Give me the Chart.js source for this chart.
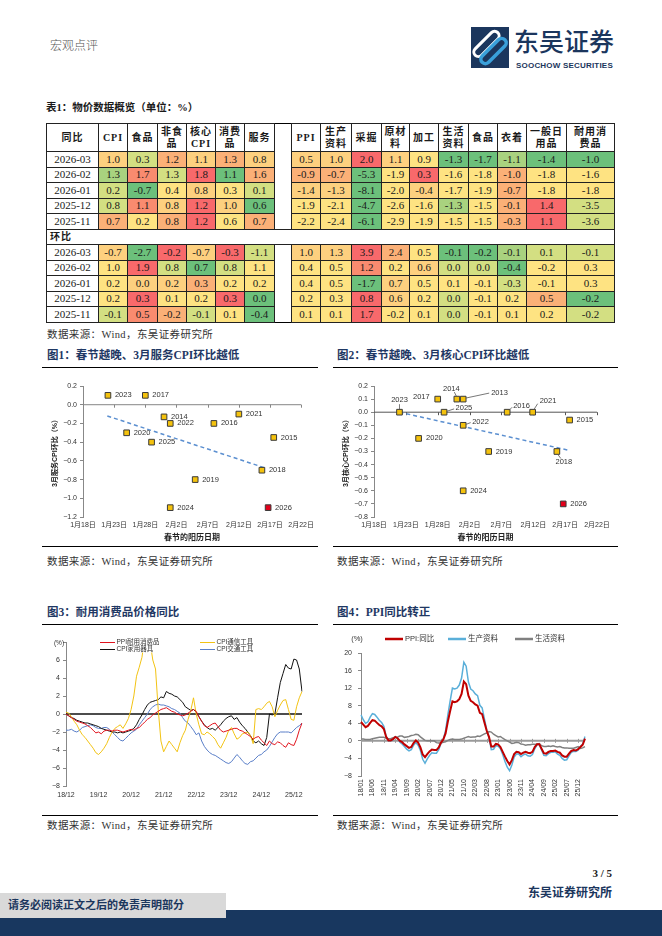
<!DOCTYPE html>
<html lang="zh-CN">
<head>
<meta charset="UTF-8">
<meta name="viewport" content="width=device-width, initial-scale=1.0">
<title>宏观点评 - 物价数据</title>
<script src="https://cdn.jsdelivr.net/npm/chart.js"></script>
<style>
  body { margin: 0; background: #fff; }
  #page { position: relative; width: 662px; height: 936px; overflow: hidden;
          font-family: "Liberation Serif", "Noto Sans CJK SC", serif; color: #222; }
  .abs { position: absolute; white-space: nowrap; }
  .ftitle { font-size: 11.5px; font-weight: bold; color: #1F3864; line-height: 16px; }
  .src { font-size: 10.5px; line-height: 14px; color: #333; letter-spacing: 0.4px; }
  .rule { position: absolute; height: 0; border-top: 1px solid #000; }
  canvas { position: absolute; }
  #tbl { position: absolute; left: 46px; top: 123px; width: 568px; border-collapse: collapse;
         table-layout: fixed; border: 1.5px solid #000;
         font-family: "Liberation Serif", "Noto Sans CJK SC", serif; font-size: 11px; color: #1a1a1a; }
  #tbl td, #tbl th { border: 1px solid #222; padding: 0; text-align: center; height: 14.5px;
                     line-height: 13px; white-space: nowrap; overflow: hidden; }
  #tbl th { height: 27px; font-size: 10px; line-height: 12px; font-weight: bold; letter-spacing: 1px; }
  #tbl .gap { border-top: none; border-bottom: none; background: #fff; }
  #tbl .sec td { text-align: left; font-weight: bold; font-size: 10px; padding-left: 3px; letter-spacing: 1px; }
</style>
</head>
<body>
<div id="page">
  <div class="abs" style="left:50px;top:36px;font:300 12px 'Noto Sans CJK SC';color:#555;">宏观点评</div>
  <svg class="abs" style="left:471px;top:27px" width="38" height="41" viewBox="0 0 38 41">
    <rect width="38" height="41" fill="#1B365D"/>
    <g transform="rotate(-45 19 20.5)">
      <rect x="3" y="11" width="32" height="9" rx="4.5" fill="none" stroke="#fff" stroke-width="3"/>
      <rect x="3" y="21" width="32" height="9" rx="4.5" fill="none" stroke="#3AA0DA" stroke-width="3.5"/>
    </g>
  </svg>
  <div class="abs" style="left:514px;top:25px;font:500 25px/30px 'Noto Sans CJK SC';color:#1B365D;">东吴证券</div>
  <div class="abs" style="left:516px;top:61px;font:bold 8px/10px 'Liberation Sans';color:#1B365D;letter-spacing:0.2px;">SOOCHOW SECURITIES</div>

  <div class="abs" style="left:46px;top:101px;font-size:10.5px;font-weight:bold;line-height:14px;color:#1a1a1a;">表1：物价数据概览（单位：%）</div>
  <table id="tbl"></table>
  <div class="abs src" style="left:47px;top:328px;">数据来源：Wind，东吴证券研究所</div>

  <div class="abs ftitle" style="left:47px;top:347px;">图1：春节越晚、3月服务CPI环比越低</div>
  <div class="abs ftitle" style="left:337px;top:347px;">图2：春节越晚、3月核心CPI环比越低</div>
  <div class="rule" style="left:42px;top:367px;width:276px;"></div>
  <div class="rule" style="left:333px;top:367px;width:285px;"></div>
  <canvas id="fig1" width="276" height="172" style="left:42px;top:372px;"></canvas>
  <canvas id="fig2" width="285" height="172" style="left:333px;top:372px;"></canvas>
  <div class="rule" style="left:42px;top:546px;width:276px;"></div>
  <div class="rule" style="left:333px;top:546px;width:285px;"></div>
  <div class="abs src" style="left:47px;top:555px;">数据来源：Wind，东吴证券研究所</div>
  <div class="abs src" style="left:337px;top:555px;">数据来源：Wind，东吴证券研究所</div>

  <div class="abs ftitle" style="left:47px;top:604px;">图3：耐用消费品价格同比</div>
  <div class="abs ftitle" style="left:337px;top:604px;">图4：PPI同比转正</div>
  <div class="rule" style="left:42px;top:624px;width:276px;"></div>
  <div class="rule" style="left:333px;top:624px;width:285px;"></div>
  <canvas id="fig3" width="276" height="184" style="left:42px;top:628px;"></canvas>
  <canvas id="fig4" width="285" height="184" style="left:333px;top:628px;"></canvas>
  <div class="rule" style="left:42px;top:815px;width:276px;"></div>
  <div class="rule" style="left:333px;top:815px;width:285px;"></div>
  <div class="abs src" style="left:47px;top:819px;">数据来源：Wind，东吴证券研究所</div>
  <div class="abs src" style="left:337px;top:819px;">数据来源：Wind，东吴证券研究所</div>

  <div class="abs" style="right:50px;top:866px;font-size:11px;font-weight:bold;line-height:14px;">3 / 5</div>
  <div class="abs" style="right:50px;top:885px;font-size:12px;font-weight:bold;line-height:16px;color:#1B365D;">东吴证券研究所</div>
  <div class="abs" style="left:0;top:910px;width:662px;height:26px;background:#18375F;"></div>
  <div class="abs" style="left:0;top:893px;width:226px;height:25px;background:#D9D9D9;"></div>
  <div class="abs" style="left:8px;top:898px;font-size:11px;font-weight:bold;line-height:15px;color:#1B365D;">请务必阅读正文之后的免责声明部分</div>
</div>

<script>
// ---- 表1 数据 ----
const rowDates = ['2026-03', '2026-02', '2026-01', '2025-12', '2025-11'];
const cpiHeads = ['CPI', '食品', '非食\n品', '核心\nCPI', '消费\n品', '服务'];
const ppiHeads = ['PPI', '生产\n资料', '采掘', '原材\n料', '加工', '生活\n资料', '食品', '衣着', '一般日\n用品', '耐用消\n费品'];

const yoyCpi = [
  [1.0, 0.3, 1.2, 1.1, 1.3, 0.8],
  [1.3, 1.7, 1.3, 1.8, 1.1, 1.6],
  [0.2, -0.7, 0.4, 0.8, 0.3, 0.1],
  [0.8, 1.1, 0.8, 1.2, 1.0, 0.6],
  [0.7, 0.2, 0.8, 1.2, 0.6, 0.7]
];
const yoyPpi = [
  [0.5, 1.0, 2.0, 1.1, 0.9, -1.3, -1.7, -1.1, -1.4, -1.0],
  [-0.9, -0.7, -5.3, -1.9, 0.3, -1.6, -1.8, -1.0, -1.8, -1.6],
  [-1.4, -1.3, -8.1, -2.0, -0.4, -1.7, -1.9, -0.7, -1.8, -1.8],
  [-1.9, -2.1, -4.7, -2.6, -1.6, -1.3, -1.5, -0.1, 1.4, -3.5],
  [-2.2, -2.4, -6.1, -2.9, -1.9, -1.5, -1.5, -0.3, 1.1, -3.6]
];
const momCpi = [
  [-0.7, -2.7, -0.2, -0.7, -0.3, -1.1],
  [1.0, 1.9, 0.8, 0.7, 0.8, 1.1],
  [0.2, 0.0, 0.2, 0.3, 0.2, 0.2],
  [0.2, 0.3, 0.1, 0.2, 0.3, 0.0],
  [-0.1, 0.5, -0.2, -0.1, 0.1, -0.4]
];
const momPpi = [
  [1.0, 1.3, 3.9, 2.4, 0.5, -0.1, -0.2, -0.1, 0.1, -0.1],
  [0.4, 0.5, 1.2, 0.2, 0.6, 0.0, 0.0, -0.4, -0.2, 0.3],
  [0.4, 0.5, -1.7, 0.7, 0.5, 0.1, -0.1, -0.3, -0.1, 0.3],
  [0.2, 0.3, 0.8, 0.6, 0.2, 0.0, -0.1, 0.2, 0.5, -0.2],
  [0.1, 0.1, 1.7, -0.2, 0.1, 0.0, -0.1, 0.1, 0.2, -0.2]
];

// 条件格式颜色（从图中读取的色阶）
const heatColors = { r: '#F8696B', s: '#F98B6F', o: '#FBB077', a: '#FDD07F', y: '#FEE382', l: '#D3DF82', m: '#A9D27F', g: '#6CC07B' };
const yoyCpiHeat = ['aloaoa', 'mslrgo', 'lgyayl', 'lsarag', 'oyoryo'];
const yoyPpiHeat = ['aarayggmgg', 'oogyryyoyy', 'aagyayyoyy', 'yygyymyorl', 'yygyyyyorl'];
const momCpiHeat = ['agrarl', 'yrlgly', 'yaaoyy', 'yryyrg', 'lsolyg'];
const momPpiHeat = ['aaroyggmll', 'yysyallgyy', 'yygayyylyy', 'yyraylyyog', 'yyryylyyyl'];
const colWidths = [52, 29, 30, 29, 29, 29, 30, 17, 29, 31, 30, 28, 29, 30, 29, 29, 40, 48];

// ---- 图1/图2 数据 ----
const dayTicks = [18, 23, 28, 33, 38, 43, 48, 53];
const dayTickLabels = ['1月18日', '1月23日', '1月28日', '2月2日', '2月7日', '2月12日', '2月17日', '2月22日'];

const years1 = ['2014', '2015', '2016', '2017', '2018', '2019', '2020', '2021', '2022', '2023', '2024', '2025', '2026'];
const springDay1 = [31, 48.6, 39, 28, 46.7, 36, 25, 43, 32, 22, 32, 29, 47.7];
const serviceMom = [-0.13, -0.35, -0.2, 0.1, -0.7, -0.8, -0.3, -0.1, -0.2, 0.1, -1.1, -0.4, -1.1];
const trend1X = [21.9, 47.4];
const trend1Y = [-0.12, -0.68];

const years2 = ['2013', '2014', '2015', '2016', '2017', '2018', '2019', '2020', '2021', '2022', '2023', '2024', '2025', '2026'];
const springDay2 = [32, 31, 48.7, 38.9, 28, 46.7, 36, 25, 42.9, 32, 22, 32, 29, 47.7];
const coreMom = [0.1, 0.1, -0.06, 0.0, 0.1, -0.3, -0.3, -0.2, 0.0, -0.1, 0.0, -0.6, 0.0, -0.7];
const trend2X = [22, 48.5];
const trend2Y = [0.0, -0.29];

// ---- 图3 数据（2018/12 - 2026/03，月度） ----
const durTickLabels = ['18/12', '19/12', '20/12', '21/12', '22/12', '23/12', '24/12', '25/12'];
const ppiDurable = [0.0, -0.2, -0.4, -0.6, -0.8, -0.9, -1.0, -1.1, -1.3, -1.5, -1.8, -2.1,
  -2.0, -2.2, -1.9, -1.8, -1.8, -1.9, -1.8, -1.8, -1.9, -2.0, -1.9, -1.8,
  -1.7, -1.8, -1.6, -1.5, -1.2, -0.9, -0.6, -0.4, -0.1, 0.1, 0.3, 0.5,
  0.6, 0.7, 0.5, 0.3, 0.2, 0.0, -0.1, -0.2, -0.1, 0.1, 0.3, 0.5,
  0.3, -0.3, -0.8, -1.3, -1.5, -1.3, -1.1, -1.0, -1.4, -1.8, -2.0, -1.9,
  -1.8, -1.7, -1.6, -1.6, -1.8, -1.9, -2.1, -2.3, -2.5, -2.8, -2.6, -2.5,
  -2.9, -3.2, -3.5, -3.0, -3.3, -3.4, -3.1, -3.2, -3.5, -3.7, -3.2, -3.4,
  -3.5, -2.8, -1.8, -1.0];
const cpiComm = [0.2, 0.1, -0.3, -0.8, -1.2, -1.8, -2.3, -2.6, -3.0, -3.4, -3.8, -4.3,
  -4.5, -4.2, -3.8, -3.3, -2.6, -2.0, -1.6, -1.4, -1.2, -1.6, -1.1, -0.5,
  0.5, 2.0, 4.2, 5.2, 6.3, 8.5, 9.0, 8.0, 6.0, 5.0, 0.5, -3.0,
  -4.2, -3.6, -3.0, -3.4, -3.8, -4.2, -3.2, -2.4, -1.8, -0.6, 0.4, 1.8,
  0.0, -1.2, -2.2, -2.3, -2.0, -2.2, -2.5, -2.8, -3.4, -3.8, -3.2, -2.6,
  -1.8, -1.5, -2.2, -2.8, -2.6, -2.2, -2.1, -2.0, -2.4, -3.3, 0.5, 0.6,
  0.5, 0.8, 1.2, 1.4, 0.8, -0.3, 0.4, 1.0, 1.5, 1.6, 0.5, -0.6,
  -0.7, 0.8, 1.8, 2.5];
const cpiAppliance = [0.0, -0.2, -0.4, -0.5, -0.7, -0.8, -0.9, -1.0, -1.0, -1.1, -1.2, -1.3,
  -1.4, -1.6, -1.7, -1.8, -1.9, -2.0, -2.0, -2.1, -2.0, -2.1, -2.0, -1.9,
  -1.8, -1.6, -1.2, -0.6, -0.1, 0.5, 1.0, 1.3, 1.4, 1.5, 1.6, 1.9,
  1.8, 2.5, 2.3, 2.2, 2.0, 1.9, 1.6, 1.3, 0.8, 0.6, 0.4, 0.5,
  0.2, -0.3, -0.8, -1.2, -1.5, -1.7, -1.6, -1.8, -1.5, -1.2, -0.8, -0.5,
  -0.3, -0.2, -0.6, -0.4, -0.9, -1.3, -1.6, -2.0, -2.4, -3.0, -3.2, -3.0,
  -3.3, -3.5, -2.6, 0.0, -0.1, 0.0, 1.8, 3.5, 4.5, 5.5, 5.1, 5.0,
  6.1, 6.0, 5.0, 2.5];
const cpiTransport = [-1.8, -1.8, -1.7, -1.9, -2.0, -1.8, -1.5, -1.4, -1.3, -1.2, -1.3, -1.5,
  -1.6, -1.6, -1.5, -1.5, -1.7, -2.0, -2.3, -2.6, -2.9, -3.0, -2.7, -2.4,
  -2.1, -1.9, -1.7, -1.2, -0.8, -0.4, 0.0, 0.5, 0.8, 1.0, 1.1, 1.0,
  1.0, 0.9, 0.8, 0.6, 0.5, 0.3, 0.1, -0.4, -0.8, -1.0, -1.4, -1.8,
  -2.3, -2.1, -3.0, -3.6, -4.0, -4.3, -4.5, -4.6, -4.8, -5.0, -5.2, -5.4,
  -5.5, -5.3, -4.9, -4.5, -4.8, -5.2, -5.5, -5.6, -5.3, -5.2, -4.9, -4.6,
  -4.5, -4.2, -4.0, -3.6, -3.1, -2.6, -2.2, -2.0, -2.0, -2.0, -2.0, -2.1,
  -1.8, -1.5, -1.3, -1.0];

// ---- 图4 数据（2018/01 - 2026/03，月度） ----
const ppiTickLabels = ['18/01', '18/06', '18/11', '19/04', '19/09', '20/02', '20/07', '20/12', '21/05', '21/10',
  '22/03', '22/08', '23/01', '23/06', '23/11', '24/04', '24/09', '25/02', '25/07', '25/12'];
const ppiYoy = [4.3, 3.7, 3.1, 3.4, 4.1, 4.7, 4.6, 4.1, 3.6, 3.3, 2.7, 0.9,
  0.1, 0.1, 0.4, 0.9, 0.6, 0.0, -0.3, -0.8, -1.2, -1.6, -1.4, -0.5,
  0.1, -0.4, -1.5, -3.1, -3.7, -3.0, -2.4, -2.0, -2.1, -2.1, -1.5, -0.4,
  0.3, 1.7, 4.4, 6.8, 9.0, 8.8, 9.0, 9.5, 10.7, 13.5, 12.9, 10.3,
  9.1, 8.8, 8.3, 8.0, 6.4, 6.1, 4.2, 2.3, 0.9, -1.3, -1.3, -0.7,
  -0.8, -1.4, -2.5, -3.6, -4.6, -5.4, -4.4, -3.0, -2.5, -2.6, -3.0, -2.7,
  -2.5, -2.7, -2.8, -2.5, -1.4, -0.8, -0.8, -1.8, -2.8, -2.9, -2.5, -2.3,
  -2.3, -2.2, -2.5, -2.7, -3.3, -3.6, -3.6, -2.9, -2.3, -2.1, -2.2, -1.9,
  -1.4, -0.9, 0.5];
const prodYoy = [5.9, 4.8, 4.0, 4.3, 5.4, 6.2, 6.0, 5.4, 4.7, 4.2, 3.3, 1.0,
  0.0, 0.0, 0.2, 0.9, 0.5, -0.3, -0.7, -1.3, -1.9, -2.3, -2.0, -1.0,
  -0.4, -1.0, -2.2, -4.2, -5.1, -4.1, -3.3, -2.7, -2.8, -2.8, -2.0, -0.6,
  0.4, 2.3, 5.9, 9.1, 12.0, 11.8, 12.0, 12.7, 14.3, 17.9, 17.0, 13.4,
  11.8, 11.4, 10.7, 10.3, 8.1, 7.5, 5.0, 2.5, 0.7, -2.0, -1.9, -1.1,
  -1.2, -1.8, -3.1, -4.7, -6.0, -6.8, -5.5, -3.7, -3.0, -3.0, -3.6, -3.2,
  -3.0, -3.4, -3.5, -3.1, -1.8, -0.9, -0.8, -2.1, -3.3, -3.4, -2.9, -2.6,
  -2.6, -2.5, -3.0, -3.3, -4.0, -4.4, -4.3, -3.4, -2.6, -2.4, -2.4, -2.1,
  -1.3, -0.7, 1.0];
const lifeYoy = [0.4, 0.4, 0.3, 0.3, 0.3, 0.5, 0.6, 0.7, 0.8, 0.8, 0.8, 0.6,
  0.5, 0.5, 0.7, 0.8, 0.9, 1.1, 1.1, 0.8, 0.9, 1.0, 1.2, 1.3,
  1.5, 1.4, 0.9, 0.5, 0.1, 0.0, 0.0, 0.0, 0.0, -0.4, -0.5, -0.5,
  -0.3, -0.2, 0.1, 0.3, 0.4, 0.3, 0.3, 0.3, 0.4, 0.6, 0.8, 1.0,
  0.8, 0.9, 0.9, 1.1, 1.0, 1.3, 1.6, 1.8, 2.1, 2.0, 1.5, 1.2,
  0.9, 1.0, 0.6, 0.3, 0.0, -0.3, -0.6, -0.5, -0.3, -0.4, -0.7, -0.8,
  -1.0, -0.9, -0.9, -0.8, -0.8, -0.7, -0.6, -1.1, -1.3, -1.3, -1.2, -1.3,
  -1.1, -1.3, -1.4, -1.3, -1.5, -1.6, -1.6, -1.7, -1.7, -1.7, -1.5, -1.3,
  -1.7, -1.6, -1.3];

// ---- 表格 ----
function heatRow(date, cpi, ppi, cpiHeat, ppiHeat) {
  let h = '<tr><td>' + date + '</td>';
  cpi.forEach((v, i) => { h += `<td style="background:${heatColors[cpiHeat[i]]}">${v.toFixed(1)}</td>`; });
  h += '<td class="gap"></td>';
  ppi.forEach((v, i) => { h += `<td style="background:${heatColors[ppiHeat[i]]}">${v.toFixed(1)}</td>`; });
  return h + '</tr>';
}
function buildTable() {
  let h = '<colgroup>' + colWidths.map(w => `<col style="width:${w}px">`).join('') + '</colgroup>';
  const th = s => `<th>${s.replace('\n', '<br>')}</th>`;
  h += '<tr><th>同比</th>' + cpiHeads.map(th).join('') + '<th class="gap"></th>' + ppiHeads.map(th).join('') + '</tr>';
  rowDates.forEach((d, r) => { h += heatRow(d, yoyCpi[r], yoyPpi[r], yoyCpiHeat[r], yoyPpiHeat[r]); });
  h += '<tr class="sec"><td colspan="18">环比</td></tr>';
  rowDates.forEach((d, r) => { h += heatRow(d, momCpi[r], momPpi[r], momCpiHeat[r], momPpiHeat[r]); });
  document.getElementById('tbl').innerHTML = h;
}
buildTable();

// ---- 图表公共设置 ----
Chart.defaults.font.family = "'Liberation Sans', 'Noto Sans CJK SC', sans-serif";
Chart.defaults.color = '#333';
const tickFont = { size: 7 };

function monthLabels(startYear, startMonth, n) {
  const out = [];
  for (let k = 0; k < n; k++) {
    const m = (startMonth - 1 + k) % 12 + 1;
    const y = startYear + Math.floor((startMonth - 1 + k) / 12);
    out.push(String(y % 100).padStart(2, '0') + '/' + String(m).padStart(2, '0'));
  }
  return out;
}
const fmt1 = v => Math.abs(v) < 1e-9 ? '0.0' : v.toFixed(1).replace('-', '\u2212');
const fmt0 = v => String(Math.round(v)).replace('-', '\u2212');

const zeroLine = {
  id: 'zeroLine',
  beforeDatasetsDraw(chart, args, o) {
    const { ctx, chartArea: a, scales: { x, y } } = chart;
    const py = y.getPixelForValue(0);
    ctx.save();
    ctx.strokeStyle = o.color;
    ctx.lineWidth = o.width;
    ctx.beginPath();
    ctx.moveTo(a.left, py);
    ctx.lineTo(a.right, py);
    ctx.stroke();
    ctx.lineWidth = 1;
    ctx.beginPath();
    (o.ticks || []).forEach(v => {
      const px = Math.round(x.getPixelForValue(v)) + 0.5;
      ctx.moveTo(px, py - o.up);
      ctx.lineTo(px, py + o.down);
    });
    ctx.stroke();
    ctx.restore();
  }
};

const pointTags = {
  id: 'pointTags',
  afterDatasetsDraw(chart, args, o) {
    if (!o.years) return;
    const ctx = chart.ctx;
    const meta = chart.getDatasetMeta(0);
    ctx.save();
    ctx.font = "7.5px 'Liberation Sans', sans-serif";
    ctx.fillStyle = '#333';
    ctx.textBaseline = 'middle';
    meta.data.forEach((pt, i) => {
      const p = (o.pos && o.pos[i]) || {};
      if (p.line) {
        ctx.strokeStyle = '#555';
        ctx.lineWidth = 0.8;
        ctx.beginPath();
        ctx.moveTo(pt.x + p.line[0], pt.y + p.line[1]);
        ctx.lineTo(pt.x + p.line[2], pt.y + p.line[3]);
        ctx.stroke();
      }
      ctx.textAlign = p.align || 'left';
      ctx.fillText(o.years[i], pt.x + (p.dx ?? 7), pt.y + (p.dy ?? 0));
    });
    ctx.restore();
  }
};

const lineLegend = {
  id: 'lineLegend',
  afterDatasetsDraw(chart, args, o) {
    if (!o.items) return;
    const ctx = chart.ctx;
    ctx.save();
    if (o.box) { ctx.fillStyle = '#fff'; ctx.fillRect(o.box[0], o.box[1], o.box[2], o.box[3]); }
    ctx.font = o.font;
    ctx.textBaseline = 'middle';
    ctx.textAlign = 'left';
    o.items.forEach(it => {
      const ds = chart.data.datasets[it.ds];
      ctx.strokeStyle = ds.borderColor;
      ctx.lineWidth = o.lineWidth || ds.borderWidth;
      ctx.beginPath();
      ctx.moveTo(it.x, it.y);
      ctx.lineTo(it.x + o.lineLen, it.y);
      ctx.stroke();
      ctx.fillStyle = '#333';
      ctx.fillText(ds.label, it.x + o.lineLen + o.gap, it.y);
    });
    if (o.unit) { ctx.textAlign = 'center'; ctx.fillText('(%)', o.unit[0], o.unit[1]); }
    ctx.restore();
  }
};

// ---- 图1 / 图2：春节日期散点 ----
function springChart(id, days, vals, years, tx, ty, yMin, yMax, yStep, yTitle, tagPos, padRight, zeroColor) {
  new Chart(document.getElementById(id), {
    type: 'scatter',
    data: {
      datasets: [
        {
          data: days.map((d, i) => ({ x: d, y: vals[i] })),
          pointStyle: 'rect',
          pointRadius: 4,
          backgroundColor: years.map(y => y === '2026' ? '#E3001B' : '#F4C20D'),
          borderColor: '#3A3A3A',
          borderWidth: 1
        },
        {
          data: tx.map((x, i) => ({ x: x, y: ty[i] })),
          showLine: true,
          borderColor: '#5B8FD0',
          borderDash: [4, 3],
          borderWidth: 1.5,
          pointRadius: 0
        }
      ]
    },
    options: {
      responsive: false,
      animation: false,
      layout: { padding: { top: 14, right: padRight, left: 0, bottom: 0 } },
      plugins: {
        legend: { display: false },
        tooltip: { enabled: false },
        pointTags: { years: years, pos: tagPos },
        zeroLine: { color: zeroColor, width: 1, ticks: dayTicks.slice(1), up: 0, down: 3 }
      },
      scales: {
        x: {
          type: 'linear', min: 18, max: 53,
          afterBuildTicks: s => { s.ticks = dayTicks.map(v => ({ value: v })); },
          afterFit: s => { s.height = 27; },
          ticks: { font: tickFont, padding: 4, maxRotation: 0, autoSkip: false,
                   callback: v => dayTickLabels[dayTicks.indexOf(v)] },
          grid: { display: false, drawTicks: false },
          border: { display: false },
          title: { display: true, text: '春节的阳历日期', font: { size: 8, weight: 'bold' }, color: '#222',
                   padding: { top: 0, bottom: 1.5 } }
        },
        y: {
          min: yMin, max: yMax,
          afterFit: s => { s.width = 41; },
          ticks: { stepSize: yStep, font: tickFont, padding: 3, callback: v => fmt1(v) },
          grid: { drawOnChartArea: false, tickLength: 3, color: '#888' },
          border: { color: '#888' },
          title: { display: true, text: yTitle, font: { size: 7, weight: 'bold' }, color: '#222',
                   padding: { top: 8.5, bottom: 0 } }
        }
      }
    },
    plugins: [zeroLine, pointTags]
  });
}

const tagPos1 = [];
const tagPos2 = [
  { dx: 28, dy: -6.5, line: [2.5, -1, 26, -6] },
  { dx: -5.5, dy: -10, align: 'center', line: [-0.5, -3, -2.5, -7] },
  {},
  { dx: 6, dy: -6.7, line: [2, -2, 5, -5] },
  { dx: -8, dy: -2.3, align: 'right' },
  { dx: 7, dy: 10.5, align: 'center', line: [1, 3, 4, 7] },
  {},
  { dx: 7.5 },
  { dx: 7, dy: -11, line: [1.5, -3, 5, -8.5] },
  { dx: 9, dy: -3.3, line: [3, -1, 7.5, -2.7] },
  { dx: 0, dy: -12.3, align: 'center', line: [0, -3, 0, -8] },
  {},
  { dx: 11.5, dy: -4.3, line: [3, -1, 10, -3.3] },
  {}
];

springChart('fig1', springDay1, serviceMom, years1, trend1X, trend1Y, -1.2, 0.2, 0.2,
  '3月服务CPI环比（%）', tagPos1, 12, '#868686');
springChart('fig2', springDay2, coreMom, years2, trend2X, trend2Y, -0.8, 0.2, 0.1,
  '3月核心CPI环比（%）', tagPos2, 21, '#555');

// ---- 图3：耐用消费品价格同比 ----
const durMonths = monthLabels(2018, 12, ppiDurable.length);
new Chart(document.getElementById('fig3'), {
  type: 'line',
  data: {
    labels: durMonths,
    datasets: [
      { label: 'PPI耐用消费品', data: ppiDurable, borderColor: '#E0141E', borderWidth: 1, pointRadius: 0 },
      { label: 'CPI通信工具', data: cpiComm, borderColor: '#F2C314', borderWidth: 1, pointRadius: 0 },
      { label: 'CPI家用器具', data: cpiAppliance, borderColor: '#111', borderWidth: 1, pointRadius: 0 },
      { label: 'CPI交通工具', data: cpiTransport, borderColor: '#5A7FC8', borderWidth: 1, pointRadius: 0 }
    ]
  },
  options: {
    responsive: false,
    animation: false,
    layout: { padding: { top: 14, right: 16, left: 0, bottom: 0 } },
    plugins: {
      legend: { display: false },
      tooltip: { enabled: false },
      zeroLine: { color: '#111', width: 1.4, ticks: [], up: 0, down: 0 },
      lineLegend: {
        box: [55, 7, 178, 17.5], font: "6.5px 'Liberation Sans', 'Noto Sans CJK SC', sans-serif",
        lineLen: 15, gap: 1.5, unit: [17, 15],
        items: [{ ds: 0, x: 58, y: 14.5 }, { ds: 1, x: 158, y: 14.5 }, { ds: 2, x: 58, y: 21.5 }, { ds: 3, x: 158, y: 21.5 }]
      }
    },
    scales: {
      x: {
        offset: false,
        afterFit: s => { s.height = 26; },
        ticks: { font: tickFont, padding: 5, maxRotation: 0, autoSkip: false,
                 callback: function (v) { const l = this.getLabelForValue(v); return durTickLabels.includes(l) ? l : ''; } },
        grid: { display: false, drawTicks: false },
        border: { display: false }
      },
      y: {
        min: -8, max: 8,
        afterFit: s => { s.width = 24; },
        ticks: { stepSize: 2, font: tickFont, padding: 3, callback: v => v === 8 ? '' : fmt0(v) },
        grid: { drawOnChartArea: false, tickLength: 3, color: '#888' },
        border: { color: '#888' }
      }
    }
  },
  plugins: [zeroLine, lineLegend]
});

// ---- 图4：PPI同比 ----
const ppiMonths = monthLabels(2018, 1, ppiYoy.length);
new Chart(document.getElementById('fig4'), {
  type: 'line',
  data: {
    labels: ppiMonths,
    datasets: [
      { label: 'PPI:同比', data: ppiYoy, borderColor: '#C00000', borderWidth: 2, pointRadius: 0, order: 0 },
      { label: '生产资料', data: prodYoy, borderColor: '#5AAFD9', borderWidth: 1.5, pointRadius: 0, order: 2 },
      { label: '生活资料', data: lifeYoy, borderColor: '#808080', borderWidth: 1.5, pointRadius: 0, order: 1 }
    ]
  },
  options: {
    responsive: false,
    animation: false,
    layout: { padding: { top: 25, right: 33, left: 0, bottom: 0 } },
    plugins: {
      legend: { display: false },
      tooltip: { enabled: false },
      zeroLine: { color: '#9A9A9A', width: 2, ticks: ppiMonths.map((m, i) => ppiTickLabels.includes(m) ? i : -1).filter(i => i >= 0),
                  up: 2, down: 2 },
      lineLegend: {
        font: "7.5px 'Liberation Sans', 'Noto Sans CJK SC', sans-serif",
        lineLen: 18, gap: 2, lineWidth: 2.5, unit: [24, 11],
        items: [{ ds: 0, x: 52, y: 11 }, { ds: 1, x: 115, y: 11 }, { ds: 2, x: 182, y: 11 }]
      }
    },
    scales: {
      x: {
        offset: false,
        afterFit: s => { s.height = 36; },
        ticks: { font: tickFont, padding: 3, minRotation: 90, maxRotation: 90, autoSkip: false,
                 callback: function (v) { const l = this.getLabelForValue(v); return ppiTickLabels.includes(l) ? l : ''; } },
        grid: { display: false, drawTicks: false },
        border: { display: false }
      },
      y: {
        min: -8, max: 20,
        afterFit: s => { s.width = 28; },
        ticks: { stepSize: 4, font: tickFont, padding: 6, callback: v => fmt0(v) },
        grid: { drawOnChartArea: false, tickLength: 3, color: '#888' },
        border: { color: '#888' }
      }
    }
  },
  plugins: [zeroLine, lineLegend]
});
</script>
</body>
</html>
